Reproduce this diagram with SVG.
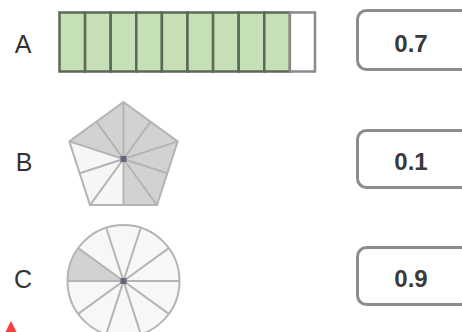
<svg xmlns="http://www.w3.org/2000/svg" width="462" height="332" viewBox="0 0 462 332">
  <style>
    .lbl { font-family: "Liberation Sans", Arial, sans-serif; font-size: 25px; fill: #333; text-anchor: middle; }
    .val { font-family: "Liberation Sans", Arial, sans-serif; font-size: 24px; fill: #3a3a3a; text-anchor: middle; font-weight: bold; }
    .box { fill: #fff; stroke: #8c8c8c; stroke-width: 3; }
    .cell { fill: #c5e0b4; stroke: #5b6957; stroke-width: 2.5; }
    .empty { fill: #fff; stroke: #8a8a8a; stroke-width: 2.5; }
    .spoke { stroke: #b4b4b4; stroke-width: 2; fill: none; }
    .dot { fill: #66667a; }
  </style>
  <rect width="462" height="332" fill="#fff"/>

  <g id="row-A">
    <text class="lbl" x="23" y="53">A</text>
    <g id="bar">
      <rect class="cell" x="59.5" y="12.5" width="25.6" height="59"/>
      <rect class="cell" x="85.1" y="12.5" width="25.6" height="59"/>
      <rect class="cell" x="110.7" y="12.5" width="25.6" height="59"/>
      <rect class="cell" x="136.3" y="12.5" width="25.6" height="59"/>
      <rect class="cell" x="161.9" y="12.5" width="25.6" height="59"/>
      <rect class="cell" x="187.5" y="12.5" width="25.6" height="59"/>
      <rect class="cell" x="213.1" y="12.5" width="25.6" height="59"/>
      <rect class="cell" x="238.7" y="12.5" width="25.6" height="59"/>
      <rect class="cell" x="264.3" y="12.5" width="25.6" height="59"/>
      <rect class="empty" x="289.9" y="12.5" width="25.1" height="59"/>
    </g>
  </g>

  <g id="row-B">
    <text class="lbl" x="24" y="171">B</text>
    <g id="pentagon">
      <polygon fill="#d2d2d2" points="123.5,159 69.3,141.4 96.4,121.7 123.5,102 150.6,121.7 177.7,141.4 167.35,173.25 157,205.1 123.5,205.1"/>
      <polygon fill="#f6f6f6" points="123.5,159 123.5,205.1 90,205.1 79.65,173.25 69.3,141.4"/>
      <path class="spoke" d="M123.5,159 L123.5,102 M123.5,159 L177.7,141.4 M123.5,159 L157,205.1 M123.5,159 L90,205.1 M123.5,159 L69.3,141.4 M123.5,159 L150.6,121.7 M123.5,159 L167.35,173.25 M123.5,159 L123.5,205.1 M123.5,159 L79.65,173.25 M123.5,159 L96.4,121.7"/>
      <polygon class="spoke" points="123.5,102 177.7,141.4 157,205.1 90,205.1 69.3,141.4"/>
      <rect class="dot" x="120.5" y="156" width="6" height="6"/>
    </g>
  </g>

  <g id="row-C">
    <text class="lbl" x="23" y="288">C</text>
    <g id="circle">
      <circle cx="123.5" cy="281" r="56" fill="#f7f7f7"/>
      <path fill="#d2d2d2" d="M123.5,281 L67.5,281 A56,56 0 0 1 78.2,248.1 Z"/>
      <path class="spoke" d="M123.5,281 L140.8,227.7 M123.5,281 L168.8,248.1 M123.5,281 L179.5,281 M123.5,281 L168.8,313.9 M123.5,281 L140.8,334.3 M123.5,281 L106.2,334.3 M123.5,281 L78.2,313.9 M123.5,281 L67.5,281 M123.5,281 L78.2,248.1 M123.5,281 L106.2,227.7"/>
      <circle class="spoke" cx="123.5" cy="281" r="56"/>
      <rect class="dot" x="120.5" y="278" width="6" height="6"/>
    </g>
  </g>

  <g id="value-A">
    <rect class="box" x="357.5" y="10.5" width="130" height="59" rx="9"/>
    <text class="val" x="411" y="52">0.7</text>
  </g>
  <g id="value-B">
    <rect class="box" x="357.5" y="130.5" width="130" height="57" rx="9"/>
    <text class="val" x="411" y="170">0.1</text>
  </g>
  <g id="value-C">
    <rect class="box" x="357.5" y="247.5" width="130" height="57" rx="9"/>
    <text class="val" x="411" y="287">0.9</text>
  </g>

  <g id="marker">
    <polygon fill="#ff3b3b" points="11,321 17,333 5,333"/>
  </g>

  <g id="connectors"/>
</svg>
